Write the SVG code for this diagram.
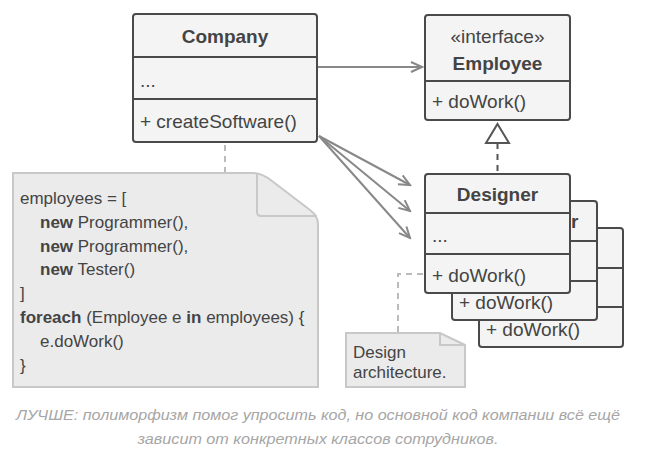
<svg xmlns="http://www.w3.org/2000/svg" width="660" height="458" viewBox="0 0 660 458">
<style>
.box{fill:#f4f4f4;stroke:#4a4a4a;stroke-width:2}
.div{stroke:#4a4a4a;stroke-width:2}
.t{font-family:"Liberation Sans",Arial,sans-serif;font-size:19px;fill:#444}
.c{font-family:"Liberation Sans",Arial,sans-serif;font-size:17px;fill:#444}
.h{font-weight:bold;font-size:19px}
.b{font-weight:bold}
.note{fill:#ebebeb;stroke:#c8c8c8;stroke-width:2}
.fold{fill:none;stroke:#c8c8c8;stroke-width:2}
.conn{stroke:#888;stroke-width:2;fill:none}
.dash{stroke:#bbb;stroke-width:2;fill:none;stroke-dasharray:6 5}
.cap{font-family:"Liberation Sans",Arial,sans-serif;font-size:15px;font-style:italic;fill:#a6a6a6;text-anchor:middle}
</style>
<defs>
<marker id="open" markerWidth="14" markerHeight="12" refX="12" refY="6" orient="auto" markerUnits="userSpaceOnUse">
<path d="M1,1 L12,6 L1,11" fill="none" stroke="#888" stroke-width="2"/>
</marker>
</defs>

<g id="connectors">
<line class="conn" x1="318" y1="67" x2="422" y2="67" marker-end="url(#open)"/>
<line class="conn" x1="319" y1="136" x2="410" y2="185" marker-end="url(#open)"/>
<line class="conn" x1="319" y1="136" x2="410" y2="211" marker-end="url(#open)"/>
<line class="conn" x1="319" y1="136" x2="410" y2="238" marker-end="url(#open)"/>
<line x1="497.5" y1="143" x2="497.5" y2="173" stroke="#555" stroke-width="2" stroke-dasharray="6 5"/>
<path d="M497.5,124 L509,143 L486,143 Z" fill="#fff" stroke="#555" stroke-width="2"/>
<line class="dash" x1="225" y1="145" x2="225" y2="172"/>
<path class="dash" d="M398,332 V274 H424"/>
</g>

<g id="company">
<rect class="box" x="133" y="14" width="184" height="128" rx="3"/>
<line class="div" x1="133" y1="57" x2="317" y2="57"/>
<line class="div" x1="133" y1="99" x2="317" y2="99"/>
<text class="t h" x="225" y="43" text-anchor="middle">Company</text>
<text class="t" x="140" y="87">...</text>
<text class="t" x="140" y="128">+ createSoftware()</text>
</g>

<g id="employee">
<rect class="box" x="425" y="15" width="145" height="105" rx="3"/>
<line class="div" x1="425" y1="81" x2="570" y2="81"/>
<text class="t" x="497.5" y="43" text-anchor="middle">«interface»</text>
<text class="t h" x="497.5" y="70" text-anchor="middle">Employee</text>
<text class="t" x="432" y="108">+ doWork()</text>
</g>

<g id="tester">
<rect class="box" x="479" y="228" width="144" height="119" rx="3"/>
<line class="div" x1="479" y1="268" x2="623" y2="268"/>
<line class="div" x1="479" y1="307" x2="623" y2="307"/>
<text class="t" x="486" y="336">+ doWork()</text>
</g>

<g id="programmer">
<rect class="box" x="452" y="201" width="145" height="119" rx="3"/>
<line class="div" x1="452" y1="241" x2="597" y2="241"/>
<line class="div" x1="452" y1="281" x2="597" y2="281"/>
<text class="t h" x="522" y="228" text-anchor="middle">Programmer</text>
<text class="t" x="459" y="309">+ doWork()</text>
</g>

<g id="designer">
<rect class="box" x="425" y="174" width="145" height="119" rx="3"/>
<line class="div" x1="425" y1="213" x2="570" y2="213"/>
<line class="div" x1="425" y1="254" x2="570" y2="254"/>
<text class="t h" x="497.5" y="201" text-anchor="middle">Designer</text>
<text class="t" x="432" y="242">...</text>
<text class="t" x="432" y="282">+ doWork()</text>
</g>

<g id="code-note">
<path class="note" d="M13,173 H252 Q262,173 272,181 L310,210 Q318,216 318,224 V387 H13 Z"/>
<path class="fold" d="M257,174 V212 Q257,216 261,216 H317"/>
<text class="c" x="20" y="204">employees = [</text>
<text class="c" x="40" y="228"><tspan class="b">new</tspan> Programmer(),</text>
<text class="c" x="40" y="252"><tspan class="b">new</tspan> Programmer(),</text>
<text class="c" x="40" y="275"><tspan class="b">new</tspan> Tester()</text>
<text class="c" x="20" y="299">]</text>
<text class="c" x="20" y="323"><tspan class="b">foreach</tspan> (Employee e <tspan class="b">in</tspan> employees) {</text>
<text class="c" x="40" y="347">e.doWork()</text>
<text class="c" x="20" y="371">}</text>
</g>

<g id="design-note">
<path class="note" d="M346,333 H440 L465,345 V387 H346 Z"/>
<path class="fold" d="M440,334 V345 H464"/>
<text class="c" x="353" y="358" font-size="17.5">Design</text>
<text class="c" x="353" y="378" font-size="17.5">architecture.</text>
</g>

<g id="caption">
<text class="cap" x="318" y="420" textLength="604" lengthAdjust="spacingAndGlyphs">ЛУЧШЕ: полиморфизм помог упросить код, но основной код компании всё ещё</text>
<text class="cap" x="318" y="444" textLength="361" lengthAdjust="spacingAndGlyphs">зависит от конкретных классов сотрудников.</text>
</g>
</svg>
